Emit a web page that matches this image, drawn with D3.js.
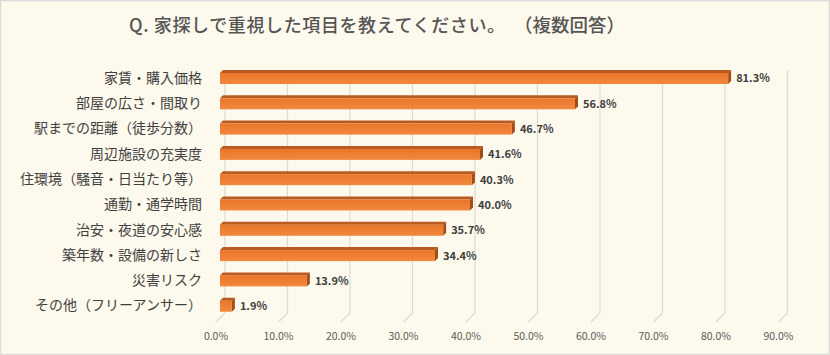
<!DOCTYPE html>
<html><head><meta charset="utf-8">
<script src="https://cdn.jsdelivr.net/npm/d3@7"></script>
<style>
html,body{margin:0;padding:0;background:#fff;}
svg{display:block;}
</style></head>
<body>
<script>
const titleMain = "Q. 家探しで重視した項目を教えてください。";
const titleSub = "（複数回答）";
const categories = ["家賃・購入価格","部屋の広さ・間取り","駅までの距離（徒歩分数）","周辺施設の充実度","住環境（騒音・日当たり等）","通勤・通学時間","治安・夜道の安心感","築年数・設備の新しさ","災害リスク","その他（フリーアンサー）"];
const values = [81.3,56.8,46.7,41.6,40.3,40.0,35.7,34.4,13.9,1.9];
const ticks = [0,10,20,30,40,50,60,70,80,90];

const W=830,H=355;
const svg=d3.select("body").append("svg").attr("width",W).attr("height",H);
const defs=svg.append("defs");
const g1=defs.append("linearGradient").attr("id","front").attr("x1",0).attr("y1",0).attr("x2",0).attr("y2",1);
g1.append("stop").attr("offset","0%").attr("stop-color","#ea7629");
g1.append("stop").attr("offset","100%").attr("stop-color","#f2883f");

svg.append("rect").attr("x",0.5).attr("y",0.5).attr("width",W-1).attr("height",H-1)
  .attr("fill","#fdf9ec").attr("stroke","#dcdcdc").attr("stroke-width",1.5);

const font="'Noto Sans CJK JP','Noto Sans',sans-serif";
const tt=svg.append("text").attr("y",27).attr("dominant-baseline","middle")
  .attr("font-family",font).attr("font-size",18).attr("fill","#555555").attr("font-weight",500);
tt.append("tspan").attr("x",129).attr("textLength",376).attr("lengthAdjust","spacing").text(titleMain);
tt.append("tspan").attr("x",514).attr("font-size",18.5).text(titleSub);

const x=d3.scaleLinear().domain([0,90]).range([220,782.5]);
const y=d3.scalePoint().domain(categories).range([65.35,318.35]).padding(0.5);

const backDx=5, frontDx=-4, topY=70, backY=313, frontY=322;
const grid=svg.append("g");
ticks.forEach(t=>{
  const xb=x(t)+backDx, xf=x(t)+frontDx;
  grid.append("path").attr("d",`M${xb},${topY}L${xb},${backY}L${xf},${frontY}`)
    .attr("fill","none").attr("stroke","#dedad0").attr("stroke-width",1.2);
});
grid.selectAll("text.tick").data(ticks).join("text").attr("class","tick")
  .attr("x",d=>x(d)+frontDx).attr("y",337).attr("text-anchor","middle").attr("dominant-baseline","middle")
  .attr("font-family",font).attr("font-size",10.5).attr("fill","#595959").text(d=>d.toFixed(1)+"%");

svg.selectAll("text.cat").data(categories).join("text").attr("class","cat")
  .attr("x",202).attr("y",d=>y(d)+1).attr("text-anchor","end").attr("dominant-baseline","middle")
  .attr("font-family",font).attr("font-size",14).attr("fill","#3f3f3f").text(d=>d);

const d=3;
const bars=svg.append("g");
values.forEach((v,i)=>{
  const c=y(categories[i]);
  const x0=x(0), x1=x(v);
  const t=c-5, b=c+6;
  bars.append("path").attr("d",`M${x0},${t}L${x0+d},${t-d}L${x1+d},${t-d}L${x1},${t}Z`).attr("fill","#b95b20");
  bars.append("path").attr("d",`M${x1},${t}L${x1+d},${t-d}L${x1+d},${b-d}L${x1},${b}Z`).attr("fill","#a44e17");
  bars.append("rect").attr("x",x0).attr("y",t).attr("width",x1-x0).attr("height",b-t).attr("fill","url(#front)");
  bars.append("text").attr("x",x1+d+5).attr("y",c+1.5).attr("dominant-baseline","middle")
    .attr("font-family",font).attr("font-size",11).attr("font-weight","bold").attr("fill","#404040")
    .text(v.toFixed(1)+"%");
});
</script>
</body></html>
